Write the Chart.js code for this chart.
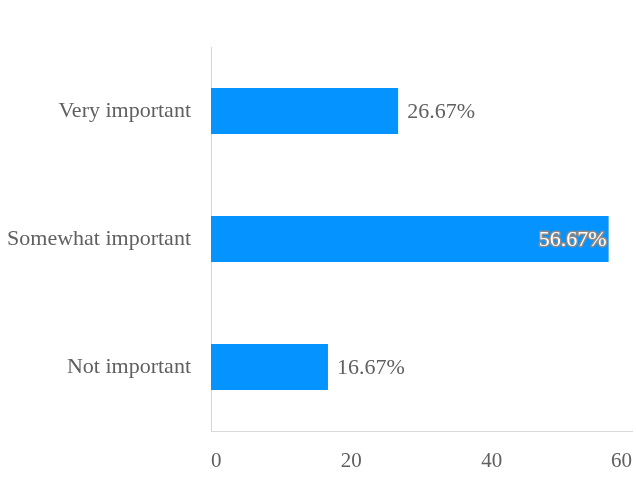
<!DOCTYPE html>
<html>
<head>
<meta charset="utf-8">
<script src="https://cdn.jsdelivr.net/npm/chart.js@4/dist/chart.umd.min.js"></script>
<style>
  html, body { margin: 0; padding: 0; background: #ffffff; }
  #wrap { width: 636px; height: 481px; }
</style>
</head>
<body>
<div id="wrap"><canvas id="chart" width="636" height="481"></canvas></div>
<script>
// Survey answers and their shares (%)
const categories = ['Very important', 'Somewhat important', 'Not important'];
const shares = [26.67, 56.67, 16.67];
const xTicks = [0, 20, 40, 60];

const barColor = '#0593FF';
const textColor = '#606060';
const serif = '"Liberation Serif", "Times New Roman", serif';

// Percentage labels: outside the bar end, or inside (white, outlined) when the bar is long
const valueLabels = {
  id: 'valueLabels',
  afterDatasetsDraw(chart) {
    const ctx = chart.ctx;
    const meta = chart.getDatasetMeta(0);
    ctx.save();
    ctx.font = '22px ' + serif;
    ctx.textBaseline = 'middle';
    meta.data.forEach((bar, i) => {
      const v = shares[i];
      const text = v.toFixed(2) + '%';
      const inside = v > 45;
      if (inside) {
        ctx.textAlign = 'right';
        ctx.lineJoin = 'round';
        ctx.lineWidth = 3;
        ctx.strokeStyle = '#8a8a8a';
        ctx.strokeText(text, bar.x - 2, bar.y + 1);
        ctx.fillStyle = '#ffffff';
        ctx.fillText(text, bar.x - 2, bar.y + 1);
      } else {
        ctx.textAlign = 'left';
        ctx.fillStyle = textColor;
        ctx.fillText(text, bar.x + 9, bar.y + 1);
      }
    });
    ctx.restore();
  }
};

new Chart(document.getElementById('chart'), {
  type: 'bar',
  data: {
    labels: categories,
    datasets: [{
      data: shares,
      backgroundColor: barColor,
      borderWidth: 0,
      categoryPercentage: 1,
      barPercentage: 0.36
    }]
  },
  options: {
    indexAxis: 'y',
    responsive: false,
    animation: false,
    events: [],
    layout: { padding: { top: 47, left: 8, right: 4, bottom: 6 } },
    plugins: {
      legend: { display: false },
      tooltip: { enabled: false }
    },
    scales: {
      x: {
        min: 0,
        max: 60,
        afterBuildTicks(scale) {
          scale.ticks = xTicks.map(v => ({ value: v }));
        },
        afterFit(scale) {
          scale.height = 44;
          scale.paddingLeft = 0;
          scale.paddingRight = 0;
        },
        grid: { display: false, drawTicks: false },
        border: { display: true, color: '#d9d9d9', width: 1 },
        ticks: {
          align: 'inner',
          padding: 18,
          color: textColor,
          font: { family: serif, size: 21 }
        }
      },
      y: {
        afterFit(scale) {
          scale.width = 203;
          scale.paddingTop = 0;
          scale.paddingBottom = 0;
        },
        grid: { display: false, drawTicks: false },
        border: { display: true, color: '#cdd7ea', width: 1 },
        ticks: {
          padding: 20,
          color: textColor,
          font: { family: serif, size: 22 }
        }
      }
    }
  },
  plugins: [valueLabels]
});
</script>
</body>
</html>
